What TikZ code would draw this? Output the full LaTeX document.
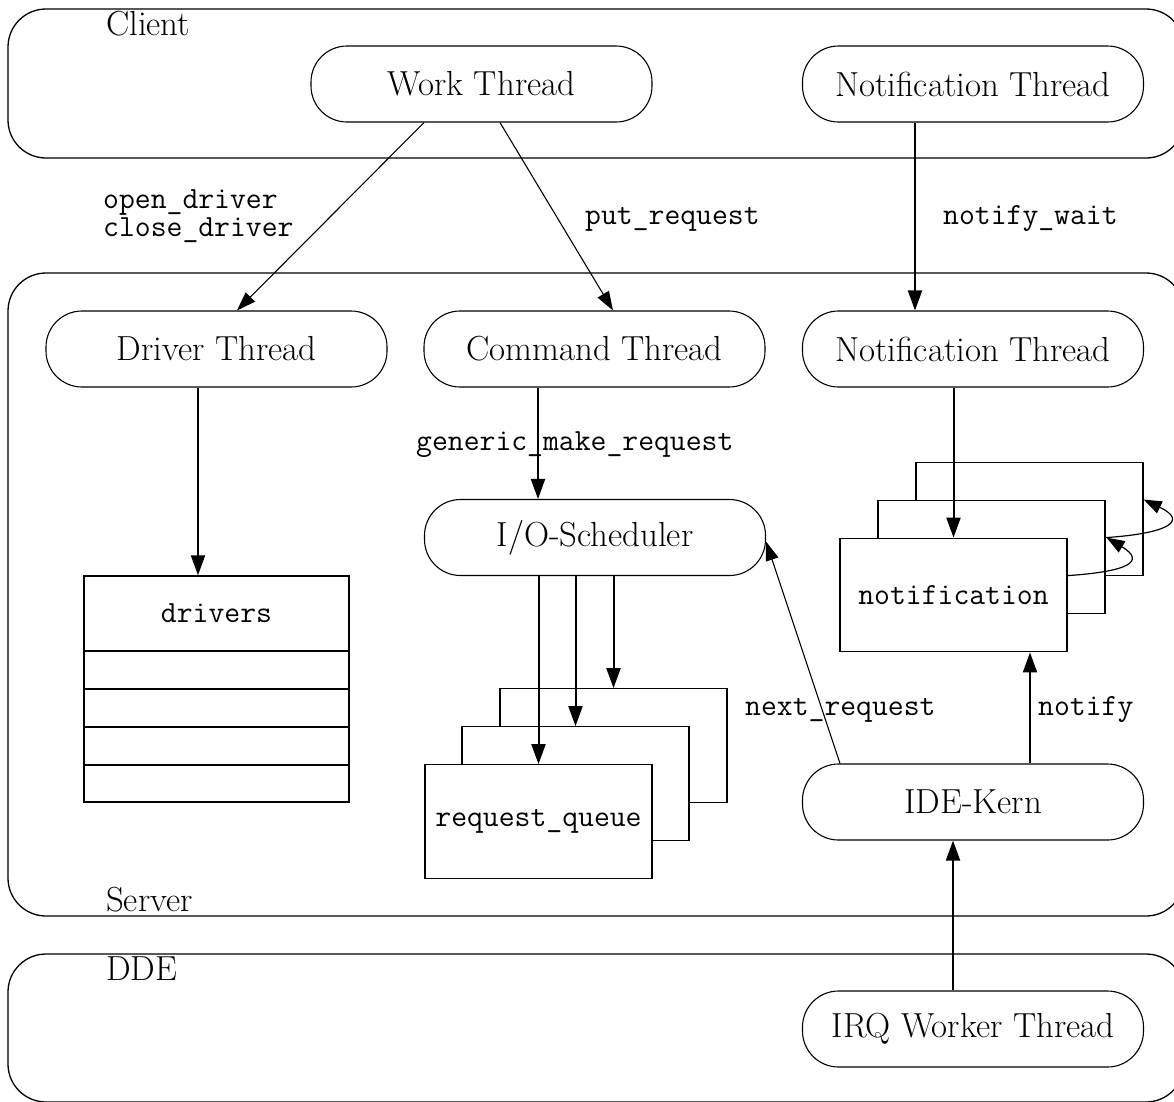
\documentclass[tikz,border=0pt]{standalone}
\usepackage{fontspec}
\usetikzlibrary{arrows.meta,calc}
\newcommand\serifbig{\fontsize{34.8}{40}\selectfont}
\newcommand\monobig{\ttfamily\fontsize{30.8}{28}\selectfont}
\begin{document}
\begin{tikzpicture}[x=1pt,y=-1pt,
  container/.style={draw, line width=1.3pt, rounded corners=38pt},
  thr/.style={draw, line width=1.1pt, rounded corners=36pt, minimum width=341pt,
    minimum height=76pt, inner sep=0pt, font=\serifbig},
  cell/.style={draw, fill=white, line width=1.3pt, minimum width=227pt,
    minimum height=113.5pt, inner sep=0pt, font=\monobig},
  tab/.style={draw, line width=1.4pt, minimum width=265pt, inner sep=0pt, font=\monobig},
  lbl/.style={font=\monobig, inner sep=0pt},
  grp/.style={font=\serifbig, inner sep=0pt},
  arr/.style={line width=2pt, -{Triangle[length=20pt,width=14pt]}},
  tarr/.style={line width=1.1pt, -{Triangle[length=19pt,width=13pt]}},
  carr/.style={line width=1.2pt, -{Triangle[length=18pt,width=13pt]}}
]
\clip (0,0) rectangle (1174,1101);

% containers
\draw[container] (8,9) rectangle (1184,158);
\draw[container] (8,273) rectangle (1184,916);
\draw[container] (8,954) rectangle (1184,1102);
\node[grp, anchor=base west] (lclient) at (106,35) {Client};
\node[grp, anchor=base west] (lserver) at (106,911) {Server};
\node[grp, anchor=base west] (ldde) at (106,980) {DDE};

% thread nodes
\node[thr] (work) at (481.5,84) {Work Thread};
\node[thr] (cnotif) at (973,84) {Notification Thread};
\node[thr] (driver) at (216.5,349) {Driver Thread};
\node[thr] (command) at (594.5,349) {Command Thread};
\node[thr] (snotif) at (973,349) {Notification Thread};
\node[thr] (io) at (595,537.5) {I/O-Scheduler};
\node[thr] (ide) at (973,802) {IDE-Kern};
\node[thr] (irq) at (973,1029) {IRQ Worker Thread};

% drivers table
\node[tab, minimum height=75pt] (drvhead) at (216.5,613.5) {drivers};
\node[tab, minimum height=38pt] (drv1) at (216.5,670) {};
\node[tab, minimum height=38pt] (drv2) at (216.5,708) {};
\node[tab, minimum height=38pt] (drv3) at (216.5,746) {};
\node[tab, minimum height=37pt] (drv4) at (216.5,783.5) {};

% request queues
\node[cell] (rq3) at (613.5,745.5) {};
\node[cell] (rq2) at (575.5,783.5) {};
\node[cell] (rq1) at (538.5,821.5) {request\_queue};

% notifications
\node[cell] (nf3) at (1029.5,519) {};
\node[cell] (nf2) at (991.5,557) {};
\node[cell] (nf1) at (953.5,595) {notification};

% connectors
\draw[tarr] ($(work.south)+(-57.5,0)$) -- ($(driver.north)+(20.5,0)$);
\draw[tarr] ($(work.south)+(18.5,0)$) -- ($(command.north)+(18.5,0)$);
\draw[arr] ($(cnotif.south)+(-58,0)$) -- ($(snotif.north)+(-58,0)$);
\draw[arr] ($(driver.south)+(-18.5,0)$) -- ($(drvhead.north)+(-18.5,0)$);
\draw[arr] ($(command.south)+(-56.5,0)$) -- ($(io.north)+(-57,0)$);
\draw[arr] (rq1.north |- io.south) -- (rq1.north);
\draw[arr] (rq2.north |- io.south) -- (rq2.north);
\draw[arr] (rq3.north |- io.south) -- (rq3.north);
\draw[arr] (nf1.north |- snotif.south) -- (nf1.north);
\coordinate (notifx) at ($(ide.north)+(57,0)$);
\draw[arr] (notifx) -- (notifx |- nf1.south);
\draw[tarr] ($(ide.north)+(-133,0)$) -- ($(io.east)+(0,4)$);
\draw[arr] ($(irq.north)+(-20,0)$) -- ($(ide.south)+(-20,0)$);

% self-forwarding notification arrows
\coordinate (c1s) at ($(nf1.north east)+(0,38)$);
\coordinate (c1e) at ($(nf2.north east)+(1,38)$);
\coordinate (c2s) at ($(nf2.north east)+(0,38)$);
\coordinate (c2e) at ($(nf3.north east)+(0,38)$);
\draw[carr] (c1s) .. controls +(60,-4) and +(40,24) .. (c1e);
\draw[carr] (c2s) .. controls +(60,-4) and +(46,22) .. (c2e);

% connector labels
\node[lbl, anchor=base west] (lopen) at (103,208) {open\_driver};
\node[lbl, anchor=base west] (lclose) at (103,236) {close\_driver};
\node[lbl, anchor=base west] (lput) at (585,224) {put\_request};
\node[lbl, anchor=base west] (lwait) at (943,224) {notify\_wait};
\node[lbl, anchor=base west] (lgen) at (416,450) {generic\_make\_request};
\node[lbl, anchor=base west] (lnext) at (745,715) {next\_request};
\node[lbl, anchor=base west] (lnotify) at (1038,715) {notify};
\end{tikzpicture}
\end{document}
